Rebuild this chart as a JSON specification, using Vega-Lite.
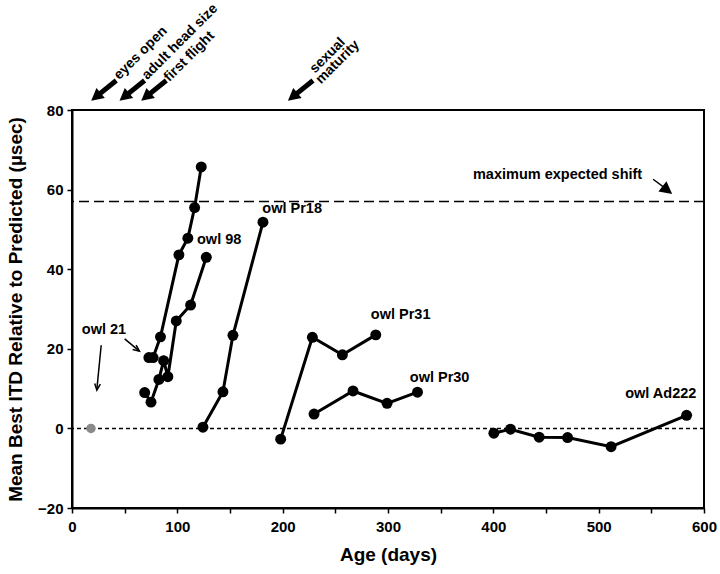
{
  "$schema": "https://vega.github.io/schema/vega-lite/v6.json",
  "width": 632,
  "height": 398,
  "autosize": {"type": "none"},
  "padding": {"left": 72, "top": 110, "right": 16, "bottom": 66},
  "background": "white",
  "config": {
    "font": "Liberation Sans",
    "view": {"stroke": "black", "strokeWidth": 2},
    "axis": {
      "domainColor": "black", "domainWidth": 2,
      "tickColor": "black", "tickWidth": 1.5, "tickSize": 5,
      "labelFont": "Liberation Sans", "labelFontWeight": "bold", "labelFontSize": 15, "labelColor": "black",
      "titleFont": "Liberation Sans", "titleFontWeight": "bold", "titleFontSize": 19, "titleColor": "black",
      "grid": false
    }
  },
  "datasets": {
    "series": [
      {"owl": "owl 21", "day": 73, "itd": 17.8},
      {"owl": "owl 21", "day": 77, "itd": 17.8},
      {"owl": "owl 21", "day": 84, "itd": 23},
      {"owl": "owl 21", "day": 101.5, "itd": 43.6},
      {"owl": "owl 21", "day": 110, "itd": 47.8},
      {"owl": "owl 21", "day": 116.4, "itd": 55.5},
      {"owl": "owl 21", "day": 122.7, "itd": 65.7},
      {"owl": "owl 98", "day": 69, "itd": 9},
      {"owl": "owl 98", "day": 75, "itd": 6.6},
      {"owl": "owl 98", "day": 82.5, "itd": 12.3},
      {"owl": "owl 98", "day": 87, "itd": 17},
      {"owl": "owl 98", "day": 91, "itd": 13},
      {"owl": "owl 98", "day": 99, "itd": 27},
      {"owl": "owl 98", "day": 112.6, "itd": 31},
      {"owl": "owl 98", "day": 127.5, "itd": 43},
      {"owl": "owl Pr18", "day": 124.3, "itd": 0.3},
      {"owl": "owl Pr18", "day": 143.3, "itd": 9.2},
      {"owl": "owl Pr18", "day": 152.8, "itd": 23.4},
      {"owl": "owl Pr18", "day": 181.3, "itd": 51.8},
      {"owl": "owl Pr31", "day": 198.1, "itd": -2.7},
      {"owl": "owl Pr31", "day": 228.2, "itd": 22.9},
      {"owl": "owl Pr31", "day": 256.7, "itd": 18.5},
      {"owl": "owl Pr31", "day": 288.4, "itd": 23.5},
      {"owl": "owl Pr30", "day": 229.8, "itd": 3.6},
      {"owl": "owl Pr30", "day": 266.8, "itd": 9.4},
      {"owl": "owl Pr30", "day": 299.1, "itd": 6.3},
      {"owl": "owl Pr30", "day": 328, "itd": 9.1},
      {"owl": "owl Ad222", "day": 400.5, "itd": -1.2},
      {"owl": "owl Ad222", "day": 416.3, "itd": -0.2},
      {"owl": "owl Ad222", "day": 443.5, "itd": -2.2},
      {"owl": "owl Ad222", "day": 470.5, "itd": -2.3},
      {"owl": "owl Ad222", "day": 511.8, "itd": -4.6},
      {"owl": "owl Ad222", "day": 583.5, "itd": 3.3}
    ],
    "gray": [{"day": 18, "itd": 0}],
    "labels": [
      {"day": 30.4, "itd": 24.7, "text": "owl 21"},
      {"day": 139.7, "itd": 47.3, "text": "owl 98"},
      {"day": 209, "itd": 55.1, "text": "owl Pr18"},
      {"day": 312, "itd": 28.5, "text": "owl Pr31"},
      {"day": 349, "itd": 12.7, "text": "owl Pr30"},
      {"day": 559, "itd": 8.7, "text": "owl Ad222"},
      {"day": 461, "itd": 63.7, "text": "maximum expected shift"}
    ],
    "notes": [
      {"day": 42.2, "itd": 88.2, "text": "eyes open"},
      {"day": 68.8, "itd": 88.2, "text": "adult head size"},
      {"day": 89.7, "itd": 87.7, "text": "first flight"},
      {"day": 228.0, "itd": 89.8, "text": "sexual"},
      {"day": 233.7, "itd": 87.1, "text": "maturity"}
    ],
    "thick": [
      {"day": 42.0, "itd": 87.4, "day2": 22.7, "itd2": 83.3},
      {"day": 68.9, "itd": 87.4, "day2": 49.6, "itd2": 83.3},
      {"day": 89.5, "itd": 87.4, "day2": 70.2, "itd2": 83.3},
      {"day": 228.8, "itd": 87.4, "day2": 209.5, "itd2": 83.3}
    ],
    "thickHeads": [
      {"day": 18.2, "itd": 82.3, "ang": 50},
      {"day": 45.1, "itd": 82.3, "ang": 50},
      {"day": 65.7, "itd": 82.3, "ang": 50},
      {"day": 205.0, "itd": 82.3, "ang": 50},
      {"day": 569.8, "itd": 58.9, "ang": -52}
    ],
    "thin": [
      {"day": 27.7, "itd": 20.9, "day2": 23.6, "itd2": 9.8},
      {"day": 50, "itd": 22.5, "day2": 64, "itd2": 19.4},
      {"day": 551.7, "itd": 62.6, "day2": 567.5, "itd2": 59.5}
    ],
    "thinHeads": [
      {"day": 23.6, "itd": 9.6, "ang": 6},
      {"day": 64, "itd": 19.4, "ang": -52}
    ],
    "refs": [
      {"itd": 57, "kind": "max"},
      {"itd": 0, "kind": "zero"}
    ]
  },
  "layer": [
    {
      "data": {"name": "refs"},
      "transform": [{"filter": "datum.kind == 'zero'"}],
      "mark": {"type": "rule", "color": "black", "strokeWidth": 1.5, "strokeDash": [4, 3]},
      "encoding": {"y": {"field": "itd", "type": "quantitative"}}
    },
    {
      "data": {"name": "refs"},
      "transform": [{"filter": "datum.kind == 'max'"}],
      "mark": {"type": "rule", "color": "black", "strokeWidth": 1.5, "strokeDash": [10, 5]},
      "encoding": {"y": {"field": "itd", "type": "quantitative"}}
    },
    {
      "data": {"name": "series"},
      "mark": {"type": "line", "color": "black", "strokeWidth": 3},
      "encoding": {
        "x": {"field": "day", "type": "quantitative", "title": "Age (days)",
          "scale": {"domain": [0, 600], "nice": false},
          "axis": {"values": [0, 50, 100, 150, 200, 250, 300, 350, 400, 450, 500, 550, 600],
            "labelExpr": "datum.value % 100 == 0 ? datum.label : ''",
            "labelPadding": 6, "titlePadding": 11, "labelFlush": false}},
        "y": {"field": "itd", "type": "quantitative", "title": "Mean Best ITD Relative to Predicted (µsec)",
          "scale": {"domain": [-20, 80], "nice": false},
          "axis": {"values": [-20, -10, 0, 10, 20, 30, 40, 50, 60, 70, 80],
            "labelExpr": "datum.value % 20 == 0 ? datum.label : ''",
            "labelPadding": 4, "titlePadding": 12, "labelFlush": false}},
        "detail": {"field": "owl"}
      }
    },
    {
      "data": {"name": "series"},
      "mark": {"type": "point", "filled": true, "color": "black", "size": 120, "opacity": 1},
      "encoding": {
        "x": {"field": "day", "type": "quantitative"},
        "y": {"field": "itd", "type": "quantitative"}
      }
    },
    {
      "data": {"name": "gray"},
      "mark": {"type": "point", "filled": true, "color": "#8a8a8a", "size": 90, "opacity": 1},
      "encoding": {
        "x": {"field": "day", "type": "quantitative"},
        "y": {"field": "itd", "type": "quantitative"}
      }
    },
    {
      "data": {"name": "labels"},
      "mark": {"type": "text", "font": "Liberation Sans", "fontWeight": "bold", "fontSize": 14.5, "color": "black", "align": "center", "baseline": "middle"},
      "encoding": {
        "x": {"field": "day", "type": "quantitative"},
        "y": {"field": "itd", "type": "quantitative"},
        "text": {"field": "text"}
      }
    },
    {
      "data": {"name": "notes"},
      "mark": {"type": "text", "font": "Liberation Sans", "fontWeight": "bold", "fontSize": 14, "color": "black", "align": "left", "baseline": "middle", "angle": -45},
      "encoding": {
        "x": {"field": "day", "type": "quantitative"},
        "y": {"field": "itd", "type": "quantitative"},
        "text": {"field": "text"}
      }
    },
    {
      "data": {"name": "thick"},
      "mark": {"type": "rule", "color": "black", "strokeWidth": 5},
      "encoding": {
        "x": {"field": "day", "type": "quantitative"},
        "y": {"field": "itd", "type": "quantitative"},
        "x2": {"field": "day2"},
        "y2": {"field": "itd2"}
      }
    },
    {
      "data": {"name": "thickHeads"},
      "mark": {"type": "point", "filled": true, "color": "black", "opacity": 1, "size": 170, "shape": "M0,0L-1,-1.9L1,-1.9Z"},
      "encoding": {
        "x": {"field": "day", "type": "quantitative"},
        "y": {"field": "itd", "type": "quantitative"},
        "angle": {"field": "ang", "type": "quantitative", "scale": null}
      }
    },
    {
      "data": {"name": "thin"},
      "mark": {"type": "rule", "color": "black", "strokeWidth": 1.5},
      "encoding": {
        "x": {"field": "day", "type": "quantitative"},
        "y": {"field": "itd", "type": "quantitative"},
        "x2": {"field": "day2"},
        "y2": {"field": "itd2"}
      }
    },
    {
      "data": {"name": "thinHeads"},
      "mark": {"type": "point", "filled": false, "color": "black", "opacity": 1, "strokeWidth": 1.5, "size": 50, "shape": "M-0.8,-1.8L0,0L0.8,-1.8"},
      "encoding": {
        "x": {"field": "day", "type": "quantitative"},
        "y": {"field": "itd", "type": "quantitative"},
        "angle": {"field": "ang", "type": "quantitative", "scale": null}
      }
    }
  ]
}
